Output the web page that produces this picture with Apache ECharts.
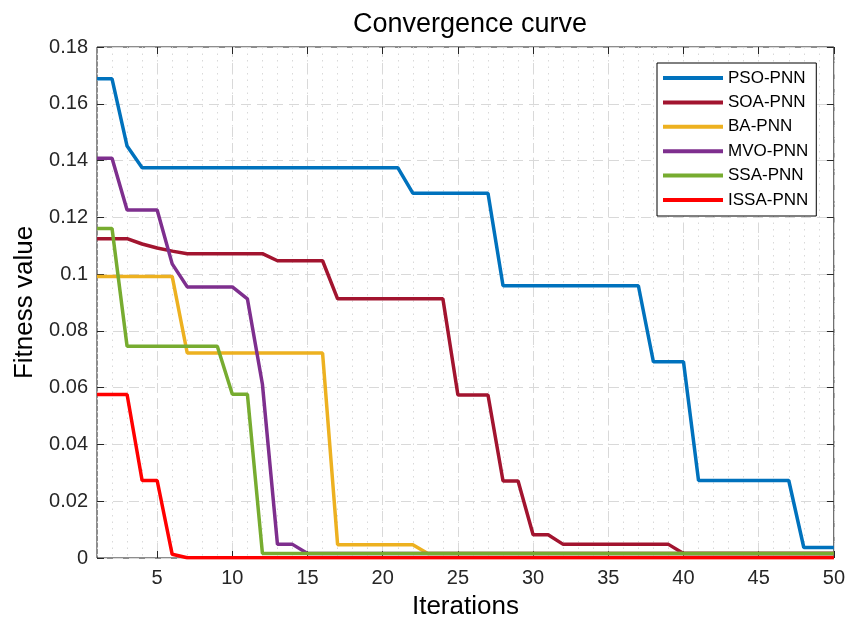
<!DOCTYPE html>
<html>
<head>
<meta charset="utf-8">
<script src="https://cdn.jsdelivr.net/npm/echarts@6/dist/echarts.min.js"></script>
<style>
    html, body { margin: 0; padding: 0; background: #fff; }
    #myChart { width: 848px; height: 625px; }
</style>
</head>
<body>
<div id="myChart"></div>
<script>
// data, one value per iteration (1..50)
var iterations = [];
for (var i = 1; i <= 50; i++) iterations.push(i);

var psoPnn = [0.1688, 0.1688, 0.1451,
    0.1375, 0.1375, 0.1375, 0.1375, 0.1375, 0.1375, 0.1375, 0.1375, 0.1375, 0.1375,
    0.1375, 0.1375, 0.1375, 0.1375, 0.1375, 0.1375, 0.1375, 0.1375,
    0.1285, 0.1285, 0.1285, 0.1285, 0.1285, 0.1285,
    0.0959, 0.0959, 0.0959, 0.0959, 0.0959, 0.0959, 0.0959, 0.0959, 0.0959, 0.0959,
    0.0691, 0.0691, 0.0691,
    0.0273, 0.0273, 0.0273, 0.0273, 0.0273, 0.0273, 0.0273,
    0.0037, 0.0037, 0.0037];
var soaPnn = [0.1125, 0.1125, 0.1125, 0.1106, 0.1092, 0.1081,
    0.1072, 0.1072, 0.1072, 0.1072, 0.1072, 0.1072,
    0.1047, 0.1047, 0.1047, 0.1047,
    0.0913, 0.0913, 0.0913, 0.0913, 0.0913, 0.0913, 0.0913, 0.0913,
    0.0574, 0.0574, 0.0574,
    0.0271, 0.0271,
    0.0082, 0.0082,
    0.0048, 0.0048, 0.0048, 0.0048, 0.0048, 0.0048, 0.0048, 0.0048,
    0.0016, 0.0016, 0.0016, 0.0016, 0.0016, 0.0016, 0.0016, 0.0016, 0.0016, 0.0016, 0.0016];
var baPnn = [0.0992, 0.0992, 0.0992, 0.0992, 0.0992, 0.0992,
    0.0722, 0.0722, 0.0722, 0.0722, 0.0722, 0.0722, 0.0722, 0.0722, 0.0722, 0.0722,
    0.0047, 0.0047, 0.0047, 0.0047, 0.0047, 0.0047,
    0.0016, 0.0016, 0.0016, 0.0016, 0.0016, 0.0016, 0.0016, 0.0016, 0.0016, 0.0016,
    0.0016, 0.0016, 0.0016, 0.0016, 0.0016, 0.0016, 0.0016, 0.0016, 0.0016, 0.0016,
    0.0016, 0.0016, 0.0016, 0.0016, 0.0016, 0.0016, 0.0016, 0.0016];
var mvoPnn = [0.1408, 0.1408, 0.1226, 0.1226, 0.1226, 0.1036,
    0.0955, 0.0955, 0.0955, 0.0955, 0.0913, 0.0612, 0.0048, 0.0048,
    0.0016, 0.0016, 0.0016, 0.0016, 0.0016, 0.0016, 0.0016, 0.0016, 0.0016, 0.0016,
    0.0016, 0.0016, 0.0016, 0.0016, 0.0016, 0.0016, 0.0016, 0.0016, 0.0016, 0.0016,
    0.0016, 0.0016, 0.0016, 0.0016, 0.0016, 0.0016, 0.0016, 0.0016, 0.0016, 0.0016,
    0.0016, 0.0016, 0.0016, 0.0016, 0.0016, 0.0016];
var ssaPnn = [0.1161, 0.1161,
    0.0746, 0.0746, 0.0746, 0.0746, 0.0746, 0.0746, 0.0746,
    0.0577, 0.0577,
    0.0016, 0.0016, 0.0016, 0.0016, 0.0016, 0.0016, 0.0016, 0.0016, 0.0016, 0.0016,
    0.0016, 0.0016, 0.0016, 0.0016, 0.0016, 0.0016, 0.0016, 0.0016, 0.0016, 0.0016,
    0.0016, 0.0016, 0.0016, 0.0016, 0.0016, 0.0016, 0.0016, 0.0016, 0.0016, 0.0016,
    0.0016, 0.0016, 0.0016, 0.0016, 0.0016, 0.0016, 0.0016, 0.0016, 0.0016];
var issaPnn = [0.0576, 0.0576, 0.0576, 0.0273, 0.0273, 0.0013,
    0.0001, 0.0001, 0.0001, 0.0001, 0.0001, 0.0001, 0.0001, 0.0001, 0.0001, 0.0001,
    0.0001, 0.0001, 0.0001, 0.0001, 0.0001, 0.0001, 0.0001, 0.0001, 0.0001, 0.0001,
    0.0001, 0.0001, 0.0001, 0.0001, 0.0001, 0.0001, 0.0001, 0.0001, 0.0001, 0.0001,
    0.0001, 0.0001, 0.0001, 0.0001, 0.0001, 0.0001, 0.0001, 0.0001, 0.0001, 0.0001,
    0.0001, 0.0001, 0.0001, 0.0001];

var seriesNames = ['PSO-PNN', 'SOA-PNN', 'BA-PNN', 'MVO-PNN', 'SSA-PNN', 'ISSA-PNN'];
var seriesValues = [psoPnn, soaPnn, baPnn, mvoPnn, ssaPnn, issaPnn];
var xTicks = [5, 10, 15, 20, 25, 30, 35, 40, 45, 50];

var axisColor = '#262626';
var colors = ['#0072BD', '#A2142F', '#EDB120', '#7E2F8E', '#77AC30', '#FF0000'];

function pairs(vals) {
    return vals.map(function (v, k) { return [iterations[k], v]; });
}

var series = seriesNames.map(function (name, k) {
    return {
        name: name, type: 'line', xAxisIndex: 0, yAxisIndex: 0,
        data: pairs(seriesValues[k]),
        symbol: 'none', lineStyle: {width: 3.5}
    };
});

var myChart = echarts.init(document.getElementById('myChart'));
myChart.setOption({
    animation: false,
    color: colors,
    textStyle: {fontFamily: 'Liberation Sans, Arial, sans-serif'},
    title: {
        text: 'Convergence curve',
        left: 465, top: 6, textAlign: 'center',
        textStyle: {fontSize: 27, fontWeight: 'normal', color: '#000'}
    },
    grid: {
        left: 97, right: 14, top: 47, bottom: 65,
        show: true, borderColor: '#1a1a1a', borderWidth: 1
    },
    legend: {
        orient: 'vertical', left: 657, top: 63,
        padding: [6, 8, 7, 6],
        icon: 'rect', itemWidth: 60, itemHeight: 4, itemGap: 6.4,
        borderColor: '#000', borderWidth: 1, backgroundColor: '#fff',
        textStyle: {fontSize: 17, color: '#000', lineHeight: 18},
        data: seriesNames
    },
    xAxis: [
        {   // labels, ticks and dashed major grid
            type: 'value', min: 1, max: 50, position: 'bottom',
            name: 'Iterations', nameLocation: 'middle', nameGap: 36,
            nameTextStyle: {fontSize: 26, color: '#000'},
            axisLine: {show: false},
            axisTick: {inside: true, length: 7, customValues: xTicks, lineStyle: {color: axisColor}},
            axisLabel: {customValues: xTicks, fontSize: 20, color: axisColor, margin: 10},
            splitLine: {show: true, lineStyle: {color: '#d9d9d9', type: [10, 6], width: 1}}
        },
        {   // dotted minor grid, every iteration
            type: 'value', min: 1, max: 50, interval: 1, position: 'bottom',
            axisLine: {show: false}, axisTick: {show: false}, axisLabel: {show: false},
            splitLine: {show: true, lineStyle: {color: '#d9d9d9', type: [1.5, 5], width: 1}}
        },
        {   // ticks on the top edge
            type: 'value', min: 1, max: 50, position: 'top',
            axisLine: {show: false},
            axisTick: {inside: true, length: 7, customValues: xTicks, lineStyle: {color: axisColor}},
            axisLabel: {show: false}, splitLine: {show: false}
        }
    ],
    yAxis: [
        {
            type: 'value', min: 0, max: 0.18, interval: 0.02, position: 'left',
            name: 'Fitness value', nameLocation: 'middle', nameGap: 57,
            nameTextStyle: {fontSize: 26, color: '#000'},
            axisLine: {show: false},
            axisTick: {show: true, inside: true, length: 7, lineStyle: {color: axisColor}},
            axisLabel: {fontSize: 20, color: axisColor, margin: 9},
            splitLine: {show: true, lineStyle: {color: '#d9d9d9', type: [10, 6], width: 1}}
        },
        {
            type: 'value', min: 0, max: 0.18, interval: 0.02, position: 'right',
            axisLine: {show: false},
            axisTick: {show: true, inside: true, length: 7, lineStyle: {color: axisColor}},
            axisLabel: {show: false}, splitLine: {show: false}
        }
    ],
    series: series
});
</script>
</body>
</html>
